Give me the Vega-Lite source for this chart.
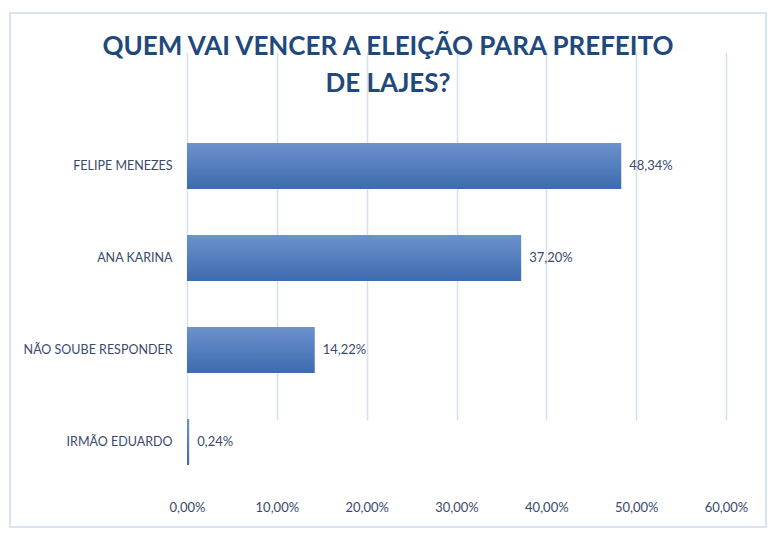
{
  "$schema": "https://vega.github.io/schema/vega-lite/v6.json",
  "width": 756,
  "height": 514,
  "padding": {"left": 10, "top": 13, "right": 13, "bottom": 23},
  "background": "white",
  "title": {
    "text": ["QUEM VAI VENCER A ELEIÇÃO PARA PREFEITO", "DE LAJES?"],
    "anchor": "middle",
    "offset": -84,
    "font": "Lato",
    "fontSize": 26,
    "fontWeight": "bold",
    "color": "#1F497D",
    "lineHeight": 37
  },
  "data": {
    "values": [
      {"candidato": "FELIPE MENEZES", "pct": 0.4834},
      {"candidato": "ANA KARINA", "pct": 0.372},
      {"candidato": "NÃO SOUBE RESPONDER", "pct": 0.1422},
      {"candidato": "IRMÃO EDUARDO", "pct": 0.0024}
    ]
  },
  "encoding": {
    "y": {
      "field": "candidato",
      "type": "nominal",
      "sort": null,
      "scale": {"range": [107, 475], "paddingInner": 0.5, "paddingOuter": 0.25},
      "axis": {
        "title": null,
        "offset": -167,
        "labelPadding": 5,
        "labelFontSize": 12.5,
        "ticks": false,
        "domain": false,
        "grid": false
      }
    },
    "x": {
      "field": "pct",
      "type": "quantitative",
      "scale": {"domain": [0, 0.6], "range": [177, 716], "nice": false},
      "axis": {
        "title": null,
        "format": ".2%",
        "values": [0, 0.1, 0.2, 0.3, 0.4, 0.5, 0.6],
        "offset": -39,
        "labelPadding": 13,
        "labelFlush": false,
        "labelFontSize": 13,
        "ticks": false,
        "domain": false,
        "grid": true,
        "gridColor": "#D6E0EF",
        "gridWidth": 1.5
      }
    }
  },
  "layer": [
    {
      "mark": {
        "type": "bar",
        "color": {
          "gradient": "linear",
          "x1": 0, "y1": 0, "x2": 0, "y2": 1,
          "stops": [
            {"offset": 0, "color": "#6D92CC"},
            {"offset": 1, "color": "#3C6BAF"}
          ]
        }
      }
    },
    {
      "mark": {"type": "text", "align": "left", "dx": 8, "fontSize": 13, "font": "Lato", "color": "#3A4A6B"},
      "encoding": {
        "text": {"field": "pct", "type": "quantitative", "format": ".2%"}
      }
    }
  ],
  "config": {
    "locale": {
      "number": {"decimal": ",", "thousands": ".", "grouping": [3], "currency": ["R$", ""]}
    },
    "view": {"stroke": "#D9E3F1", "strokeWidth": 2},
    "axis": {
      "labelFont": "Lato",
      "labelFontSize": 12,
      "labelColor": "#3A4A6B"
    }
  }
}
